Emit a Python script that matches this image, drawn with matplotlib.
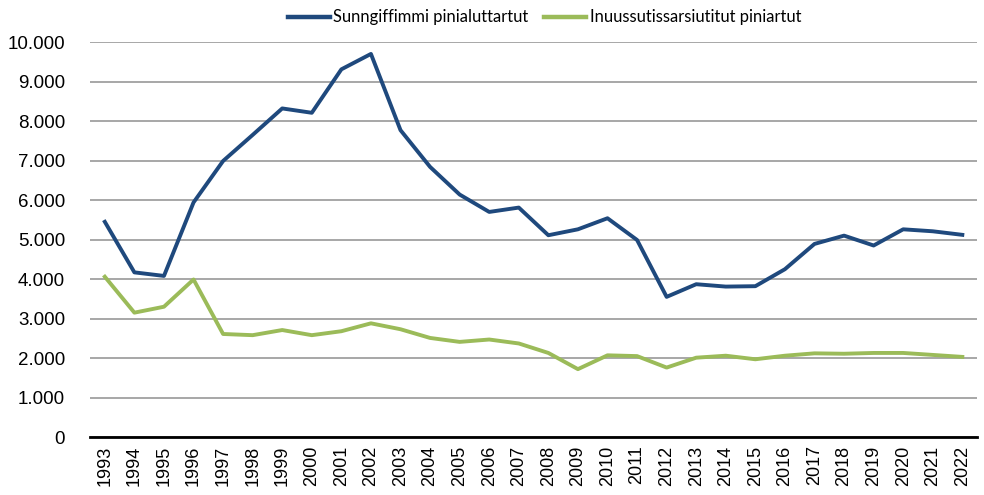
import matplotlib
matplotlib.use("Agg")
import matplotlib.pyplot as plt
from matplotlib.ticker import FuncFormatter, MultipleLocator

years = [str(y) for y in range(1993, 2023)]
sunngiffimmi = [5450, 4170, 4080, 5940, 6990, 7650, 8320, 8210, 9310, 9700,
                7770, 6840, 6140, 5700, 5810, 5110, 5260, 5540, 4990, 3550,
                3870, 3810, 3820, 4250, 4890, 5100, 4850, 5260, 5210, 5120]
inuussutissarsiutitut = [4060, 3150, 3300, 3990, 2610, 2580, 2710, 2580, 2680, 2880,
                         2730, 2510, 2410, 2470, 2370, 2130, 1720, 2070, 2050, 1760,
                         2010, 2060, 1970, 2060, 2120, 2110, 2130, 2130, 2080, 2030]
series_names = ["Sunngiffimmi pinialuttartut", "Inuussutissarsiutitut piniartut"]

fig = plt.figure(figsize=(9.84, 4.95), dpi=100)
ax = fig.add_axes([0.0915, 0.117, 0.9015, 0.798])

x = list(range(len(years)))
ax.plot(x, sunngiffimmi, color="#1f497d", lw=2.8, label=series_names[0], solid_joinstyle="round")
ax.plot(x, inuussutissarsiutitut, color="#9bbb59", lw=2.8, label=series_names[1], solid_joinstyle="round")

ax.set_xlim(-0.5, len(years) - 0.5)
ax.set_ylim(0, 10000)
ax.yaxis.set_major_locator(MultipleLocator(1000))
ax.yaxis.set_major_formatter(FuncFormatter(lambda v, p: f"{int(v):,}".replace(",", ".")))
ax.grid(axis="y", color="#a0a0a0", lw=1.3)
ax.set_axisbelow(True)
for s in ["top", "right", "left"]:
    ax.spines[s].set_visible(False)
ax.spines["bottom"].set_color("black")
ax.spines["bottom"].set_linewidth(2.0)
ax.spines["bottom"].set_zorder(5)

ax.set_xticks(x)
ax.set_xticklabels(years, rotation=90, fontsize=13, family="Liberation Sans")
ax.tick_params(axis="x", length=0, pad=6)
ax.tick_params(axis="y", length=0, pad=18, labelsize=13.5)
for lab in ax.get_yticklabels():
    lab.set_family("Liberation Sans")

leg = fig.legend(loc="center right", bbox_to_anchor=(0.821, 0.965), ncol=2, frameon=False,
                 prop={"family": "Lato", "size": 11.9}, handlelength=2.55, handletextpad=0.2,
                 columnspacing=0.95, borderaxespad=0)
for h in leg.get_lines():
    h.set_linewidth(3.2)

fig.savefig("out.png", dpi=100)
